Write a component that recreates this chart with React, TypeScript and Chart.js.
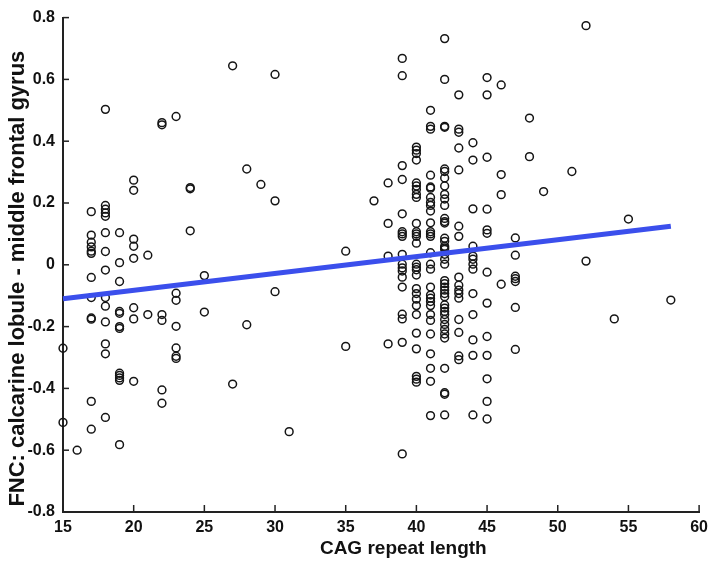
import React, { useEffect, useRef } from 'react';
import { Chart, registerables } from 'chart.js';

Chart.register(...registerables);

// CAG repeat length (x) columns and the FNC values observed at each
const CAG = [15, 16, 17, 18, 19, 20, 21, 22, 23, 24, 25, 27, 28, 29, 30, 31, 35, 37, 38, 39, 40, 41, 42, 43, 44, 45, 46, 47, 48, 49, 51, 52, 54, 55, 58];

const FNC: number[][] = [
  [-0.27, -0.51],
  [-0.6],
  [0.172, 0.096, 0.073, 0.058, 0.044, 0.037, -0.041, -0.106, -0.172, -0.176, -0.442, -0.532],
  [0.503, 0.192, 0.18, 0.168, 0.157, 0.104, 0.043, -0.017, -0.106, -0.134, -0.185, -0.256, -0.288, -0.494],
  [0.104, 0.007, -0.054, -0.151, -0.157, -0.2, -0.206, -0.351, -0.358, -0.366, -0.374, -0.582],
  [0.274, 0.241, 0.083, 0.06, 0.021, -0.139, -0.175, -0.377],
  [0.031, -0.161],
  [0.46, 0.453, -0.161, -0.18, -0.405, -0.448],
  [0.48, -0.092, -0.115, -0.199, -0.269, -0.296, -0.303],
  [0.25, 0.246, 0.11],
  [-0.035, -0.153],
  [0.644, -0.386],
  [0.31, -0.194],
  [0.26],
  [0.616, 0.207, -0.087],
  [-0.54],
  [0.044, -0.264],
  [0.207],
  [0.265, 0.134, 0.028, -0.256],
  [0.668, 0.612, 0.321, 0.276, 0.165, 0.107, 0.1, 0.092, 0.034, 0.002, -0.01, -0.02, -0.04, -0.072, -0.16, -0.175, -0.251, -0.612],
  [0.381, 0.371, 0.36, 0.339, 0.265, 0.255, 0.244, 0.228, 0.218, 0.134, 0.107, 0.1, 0.092, 0.07, 0.002, -0.008, -0.016, -0.033, -0.077, -0.093, -0.111, -0.132, -0.161, -0.221, -0.272, -0.361, -0.37, -0.38],
  [0.5, 0.448, 0.439, 0.29, 0.252, 0.248, 0.218, 0.202, 0.192, 0.174, 0.136, 0.107, 0.1, 0.092, 0.039, 0.002, -0.014, -0.072, -0.098, -0.108, -0.119, -0.132, -0.161, -0.18, -0.224, -0.288, -0.335, -0.377, -0.488],
  [0.732, 0.6, 0.448, 0.445, 0.31, 0.302, 0.281, 0.255, 0.228, 0.213, 0.192, 0.15, 0.14, 0.135, 0.086, 0.076, 0.06, 0.055, 0.05, 0.034, 0.018, 0.002, -0.051, -0.061, -0.072, -0.082, -0.093, -0.103, -0.13, -0.14, -0.151, -0.161, -0.177, -0.193, -0.209, -0.224, -0.237, -0.335, -0.414, -0.419, -0.486],
  [0.55, 0.439, 0.429, 0.378, 0.307, 0.125, 0.092, -0.04, -0.066, -0.082, -0.093, -0.108, -0.177, -0.219, -0.295, -0.307],
  [0.395, 0.339, 0.181, 0.06, 0.028, 0.018, 0.002, -0.014, -0.093, -0.161, -0.243, -0.293, -0.486],
  [0.606, 0.55, 0.348, 0.18, 0.113, 0.102, -0.024, -0.124, -0.232, -0.293, -0.369, -0.442, -0.499],
  [0.582, 0.292, 0.227, -0.063],
  [0.087, 0.031, -0.037, -0.045, -0.054, -0.138, -0.274],
  [0.475, 0.35],
  [0.237],
  [0.302],
  [0.774, 0.012],
  [-0.175],
  [0.148],
  [-0.114],
];

// Fitted regression line end points
const FIT_X = [15, 58];
const FIT_Y = [-0.11, 0.125];

const X_MIN = 15;
const X_MAX = 60;
const X_STEP = 5;
const Y_MIN = -0.8;
const Y_MAX = 0.8;
const Y_STEP = 0.2;

const X_TITLE = 'CAG repeat length';
const Y_TITLE = 'FNC: calcarine lobule - middle frontal gyrus';

const TICK_FONT = { family: '"Liberation Sans", Arial, sans-serif', size: 16, weight: 'bold' as const };

const inwardTicksAndTitles = {
  id: 'inwardTicksAndTitles',
  afterDraw(chart: any) {
    const { ctx, chartArea, scales } = chart;
    ctx.save();
    ctx.strokeStyle = '#222';
    ctx.lineWidth = 1.5;
    scales.x.ticks.forEach((t: any) => {
      const px = scales.x.getPixelForValue(t.value);
      ctx.beginPath();
      ctx.moveTo(px, chartArea.bottom);
      ctx.lineTo(px, chartArea.bottom - 7);
      ctx.stroke();
    });
    scales.y.ticks.forEach((t: any) => {
      const py = scales.y.getPixelForValue(t.value);
      ctx.beginPath();
      ctx.moveTo(chartArea.left, py);
      ctx.lineTo(chartArea.left + 6, py);
      ctx.stroke();
    });
    // axis titles
    ctx.fillStyle = '#111';
    ctx.textAlign = 'center';
    ctx.textBaseline = 'middle';
    ctx.font = 'bold 19px "Liberation Sans", Arial, sans-serif';
    ctx.fillText(X_TITLE, chartArea.left + (chartArea.right - chartArea.left) * 0.535, chartArea.bottom + 37);
    ctx.translate(18, chartArea.top + (chartArea.bottom - chartArea.top) * 0.528);
    ctx.rotate(-Math.PI / 2);
    ctx.font = 'bold 22px "Liberation Sans", Arial, sans-serif';
    ctx.fillText(Y_TITLE, 0, 0);
    ctx.restore();
  },
};

export default function App() {
  const ref = useRef<HTMLCanvasElement>(null);
  useEffect(() => {
    document.body.style.margin = '0';
    const points = CAG.flatMap((c, i) => FNC[i].map((v) => ({ x: c, y: v })));
    const fit = FIT_X.map((x, i) => ({ x, y: FIT_Y[i] }));
    const chart = new Chart(ref.current as HTMLCanvasElement, {
      type: 'scatter',
      data: {
        datasets: [
          {
            type: 'line',
            data: fit,
            borderColor: '#3b4fec',
            borderWidth: 5,
            pointRadius: 0,
            fill: false,
            clip: false,
          } as any,
          {
            data: points,
            pointStyle: 'circle',
            pointRadius: 3.9,
            pointBorderWidth: 1.5,
            pointBorderColor: '#151515',
            pointBackgroundColor: 'rgba(0,0,0,0)',
            borderColor: '#151515',
            backgroundColor: 'rgba(0,0,0,0)',
            clip: false,
          } as any,
        ],
      },
      options: {
        responsive: false,
        animation: false,
        layout: { padding: { top: 6, right: 9, left: 0, bottom: 0 } },
        plugins: { legend: { display: false }, tooltip: { enabled: false } },
        scales: {
          x: {
            type: 'linear',
            min: X_MIN,
            max: X_MAX,
            grid: { display: false, drawTicks: false },
            border: { display: true, color: '#222', width: 2 },
            ticks: { stepSize: X_STEP, color: '#111', font: TICK_FONT, padding: 6, maxRotation: 0 },
            afterFit: (s: any) => { s.height = 57; },
          },
          y: {
            type: 'linear',
            min: Y_MIN,
            max: Y_MAX,
            grid: { display: false, drawTicks: false },
            border: { display: true, color: '#222', width: 2 },
            ticks: {
              stepSize: Y_STEP,
              color: '#111',
              font: TICK_FONT,
              padding: 8,
              callback: (v: any) => String(Number(Number(v).toFixed(1))),
            },
            afterFit: (s: any) => { s.width = 63; },
          },
        },
      },
      plugins: [inwardTicksAndTitles],
    });
    return () => chart.destroy();
  }, []);
  return (
    <div style={{ position: 'absolute', left: 0, top: 0, width: 714, height: 569 }}>
      <canvas ref={ref} width={714} height={569} />
    </div>
  );
}
